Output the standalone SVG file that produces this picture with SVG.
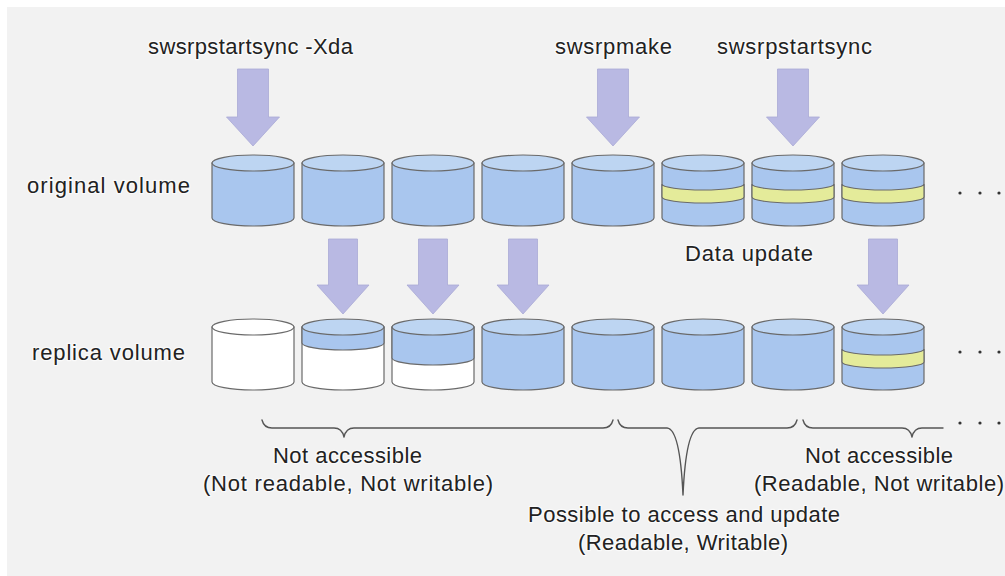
<svg xmlns="http://www.w3.org/2000/svg" xmlns:xlink="http://www.w3.org/1999/xlink" width="1005" height="576" viewBox="0 0 1005 576">
<style>
.t{font-family:"Liberation Sans",Arial,sans-serif;font-size:22px;fill:#222;stroke:#fff;stroke-width:2.5;stroke-opacity:0.7;paint-order:stroke;stroke-linejoin:round}
.body{fill:#a9c6ee;stroke:#6a6a6a;stroke-width:1.2}
.white{fill:#fff;stroke:#6a6a6a;stroke-width:1.2}
.top{fill:#bdd5f2;stroke:#6a6a6a;stroke-width:1.2}
.topw{fill:#fff;stroke:#6a6a6a;stroke-width:1.2}
.fillb{fill:#a9c6ee;stroke:#6a6a6a;stroke-width:1.2}
.band{fill:#e4eb9a;stroke:#6a6a6a;stroke-width:1.2}
.arrow{fill:#b9b9e3;stroke:#a9a9d6;stroke-width:0.8}
.brace{fill:none;stroke:#555;stroke-width:1.4;stroke-linecap:round;stroke-linejoin:round}
.dot{fill:#333}
</style>
<defs>
<path id="cylBody" d="M0,8 L0,63 A41,8 0 0 0 82,63 L82,8 Z"/>
<ellipse id="cylTop" cx="41" cy="8" rx="41" ry="8"/>
<path id="bandTop" d="M0,29 A41,6 0 0 0 82,29 L82,42 A41,6 0 0 1 0,42 Z"/>
<path id="bandBot" d="M0,30 A41,6 0 0 0 82,30 L82,43 A41,6 0 0 1 0,43 Z"/>
<path id="arrowTop" d="M-15.5,0 L15.5,0 L15.5,48 L26.5,48 L0,77 L-26.5,48 L-15.5,48 Z"/>
<path id="arrowBot" d="M-14.5,0 L14.5,0 L14.5,46 L26,46 L0,75 L-26,46 L-14.5,46 Z"/>
</defs>
<rect x="0" y="0" width="1005" height="576" fill="#ffffff"/>
<rect x="7" y="7" width="998" height="569" fill="#f2f2f2"/>

<g id="label-original"><text class="t" x="27" y="193" textLength="163" lengthAdjust="spacing">original volume</text></g>
<g id="label-replica"><text class="t" x="32" y="360" textLength="153" lengthAdjust="spacing">replica volume</text></g>
<g id="cmd-startsync-xda"><text class="t" x="148" y="54" textLength="205" lengthAdjust="spacing">swsrpstartsync -Xda</text></g>
<g id="cmd-make"><text class="t" x="555" y="54" textLength="117" lengthAdjust="spacing">swsrpmake</text></g>
<g id="cmd-startsync"><text class="t" x="717" y="54" textLength="155" lengthAdjust="spacing">swsrpstartsync</text></g>
<g id="label-data-update"><text class="t" x="685" y="261" textLength="128" lengthAdjust="spacing">Data update</text></g>

<!-- original volumes -->
<g id="orig1" transform="translate(212,155)"><use href="#cylBody" class="body"/><use href="#cylTop" class="top"/></g>
<g id="orig2" transform="translate(302,155)"><use href="#cylBody" class="body"/><use href="#cylTop" class="top"/></g>
<g id="orig3" transform="translate(392,155)"><use href="#cylBody" class="body"/><use href="#cylTop" class="top"/></g>
<g id="orig4" transform="translate(482,155)"><use href="#cylBody" class="body"/><use href="#cylTop" class="top"/></g>
<g id="orig5" transform="translate(572,155)"><use href="#cylBody" class="body"/><use href="#cylTop" class="top"/></g>
<g id="orig6" transform="translate(662,155)"><use href="#cylBody" class="body"/><use href="#bandTop" class="band"/><use href="#cylTop" class="top"/></g>
<g id="orig7" transform="translate(752,155)"><use href="#cylBody" class="body"/><use href="#bandTop" class="band"/><use href="#cylTop" class="top"/></g>
<g id="orig8" transform="translate(842,155)"><use href="#cylBody" class="body"/><use href="#bandTop" class="band"/><use href="#cylTop" class="top"/></g>

<!-- replica volumes -->
<g id="rep1" transform="translate(212,319)"><use href="#cylBody" class="white"/><use href="#cylTop" class="topw"/></g>
<g id="rep2" transform="translate(302,319)"><use href="#cylBody" class="white"/><path class="fillb" d="M0,8 L0,24 A41,7 0 0 0 82,24 L82,8 Z"/><use href="#cylTop" class="top"/></g>
<g id="rep3" transform="translate(392,319)"><use href="#cylBody" class="white"/><path class="fillb" d="M0,8 L0,39 A41,7 0 0 0 82,39 L82,8 Z"/><use href="#cylTop" class="top"/></g>
<g id="rep4" transform="translate(482,319)"><use href="#cylBody" class="body"/><use href="#cylTop" class="top"/></g>
<g id="rep5" transform="translate(572,319)"><use href="#cylBody" class="body"/><use href="#cylTop" class="top"/></g>
<g id="rep6" transform="translate(662,319)"><use href="#cylBody" class="body"/><use href="#cylTop" class="top"/></g>
<g id="rep7" transform="translate(752,319)"><use href="#cylBody" class="body"/><use href="#cylTop" class="top"/></g>
<g id="rep8" transform="translate(842,319)"><use href="#cylBody" class="body"/><use href="#bandBot" class="band"/><use href="#cylTop" class="top"/></g>

<!-- continuation dots -->
<g id="dots">
<circle class="dot" cx="960" cy="193" r="1.6"/><circle class="dot" cx="980" cy="193" r="1.6"/><circle class="dot" cx="999" cy="193" r="1.6"/>
<circle class="dot" cx="960" cy="352" r="1.6"/><circle class="dot" cx="980" cy="352" r="1.6"/><circle class="dot" cx="999" cy="352" r="1.6"/>
<circle class="dot" cx="960" cy="423" r="1.6"/><circle class="dot" cx="980" cy="423" r="1.6"/><circle class="dot" cx="999" cy="423" r="1.6"/>
</g>

<g id="connectors">
<use href="#arrowTop" class="arrow" transform="translate(253,69)"/>
<use href="#arrowTop" class="arrow" transform="translate(613,69)"/>
<use href="#arrowTop" class="arrow" transform="translate(793,69)"/>
<use href="#arrowBot" class="arrow" transform="translate(343,239)"/>
<use href="#arrowBot" class="arrow" transform="translate(433,239)"/>
<use href="#arrowBot" class="arrow" transform="translate(523,239)"/>
<use href="#arrowBot" class="arrow" transform="translate(883,239)"/>
<path class="brace" d="M262,420 Q264,428 272,428 L334,428 Q342,428 344,437 Q346,428 354,428 L603,428 Q611,428 613,420"/>
<path class="brace" d="M618,420 Q620,428 628,428 L667,428 Q680,429 683,495 Q686,429 699,428 L787,428 Q795,428 797,420"/>
<path class="brace" d="M803,420 Q805,428 813,428 L902,428 Q910,428 912,437 Q914,428 922,428 L943,428"/>
</g>

<g id="label-not-accessible-1">
<text class="t" x="273" y="463" textLength="149" lengthAdjust="spacing">Not accessible</text>
<text class="t" x="203" y="491" textLength="290" lengthAdjust="spacing">(Not readable, Not writable)</text>
</g>
<g id="label-possible">
<text class="t" x="528" y="522" textLength="312" lengthAdjust="spacing">Possible to access and update</text>
<text class="t" x="578" y="550" textLength="210" lengthAdjust="spacing">(Readable, Writable)</text>
</g>
<g id="label-not-accessible-2">
<text class="t" x="805" y="463" textLength="148" lengthAdjust="spacing">Not accessible</text>
<text class="t" x="754" y="491" textLength="250" lengthAdjust="spacing">(Readable, Not writable)</text>
</g>
</svg>
